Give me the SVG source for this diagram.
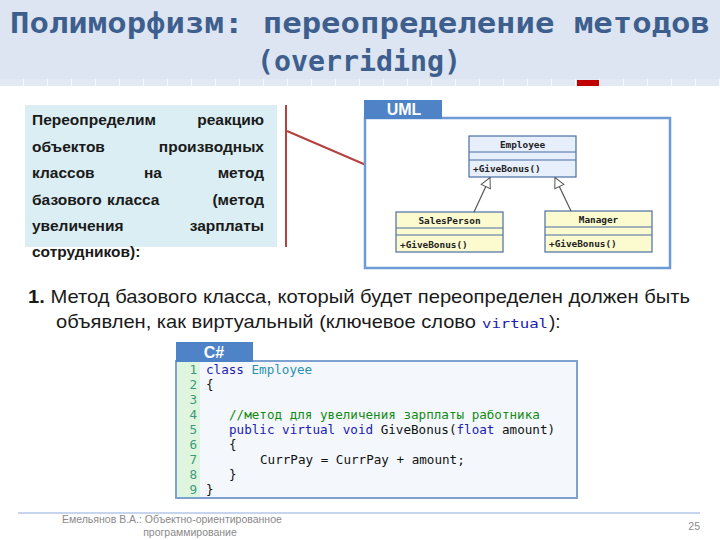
<svg xmlns="http://www.w3.org/2000/svg" width="720" height="540" viewBox="0 0 720 540">
<defs>
  <pattern id="ticks" x="-1" y="0" width="24" height="8" patternUnits="userSpaceOnUse">
    <rect x="0" y="0" width="24" height="8" fill="#e3e9f3"/>
    <rect x="0" y="0" width="1" height="8" fill="#f7f9fc"/>
  </pattern>
  <marker id="inh" viewBox="0 0 12 12" refX="11" refY="6" markerWidth="12" markerHeight="12" markerUnits="userSpaceOnUse" orient="auto">
    <path d="M1,1 L11,6 L1,11 Z" fill="#ffffff" stroke="#555555" stroke-width="1"/>
  </marker>
  <style>
    .title{font-family:"DejaVu Sans Mono","Liberation Mono",monospace;font-weight:bold;font-size:29px;fill:#3e5f8e}
    .lt{font-family:"Liberation Sans",Arial,sans-serif;font-weight:bold;font-size:15.5px;fill:#1a1a1a}
    .tab{font-family:"Liberation Sans",Arial,sans-serif;font-weight:bold;font-size:16px;fill:#ffffff}
    .uml{font-family:"DejaVu Sans Mono","Liberation Mono",monospace;font-weight:bold;font-size:9.4px;fill:#222222}
    .box{stroke:#4a6fa5;stroke-width:1.2}
    .emp{fill:#e6effb}
    .der{fill:#fbfbcf}
    .para{font-family:"Liberation Sans Narrow","Liberation Sans",Arial,sans-serif;font-size:19px;fill:#1a1a1a}
    .code{font-family:"DejaVu Sans Mono","Liberation Mono",monospace;font-size:12.6px;fill:#111111;white-space:pre}
    .ln{font-family:"DejaVu Sans Mono","Liberation Mono",monospace;font-size:12.6px;fill:#3b9a7a}
    .kw{fill:#2020b0}
    .ty{fill:#2b91af}
    .cm{fill:#138a13}
    .foot{font-family:"Liberation Sans",Arial,sans-serif;font-size:10.5px;fill:#8a8a8a}
  </style>
</defs>

<!-- header -->
<g id="header">
  <rect x="0" y="0" width="720" height="79" fill="#dce5f1"/>
  <rect x="0" y="79" width="720" height="7" fill="url(#ticks)"/>
  <rect x="577" y="80" width="22" height="6" fill="#c00000"/>
  <text class="title" x="360" y="33" text-anchor="middle" textLength="700" lengthAdjust="spacingAndGlyphs">Полиморфизм: переопределение методов</text>
  <text class="title" x="359" y="71" text-anchor="middle" textLength="204" lengthAdjust="spacingAndGlyphs">(overriding)</text>
</g>

<!-- left description -->
<g id="description">
  <rect x="25" y="105" width="252" height="142" fill="#dbeef4"/>
  <text class="lt" x="32" y="125">Переопределим</text>
  <text class="lt" x="264" y="125" text-anchor="end">реакцию</text>
  <text class="lt" x="32" y="151.5">объектов</text>
  <text class="lt" x="264" y="151.5" text-anchor="end">производных</text>
  <text class="lt" x="32" y="178">классов</text>
  <text class="lt" x="153" y="178" text-anchor="middle">на</text>
  <text class="lt" x="264" y="178" text-anchor="end">метод</text>
  <text class="lt" x="32" y="204.5">базового</text>
  <text class="lt" x="107" y="204.5">класса</text>
  <text class="lt" x="264" y="204.5" text-anchor="end">(метод</text>
  <text class="lt" x="32" y="231">увеличения</text>
  <text class="lt" x="264" y="231" text-anchor="end">зарплаты</text>
  <text class="lt" x="32" y="257">сотрудников):</text>
</g>

<!-- callout lines -->
<g id="callout" stroke="#b5413f" stroke-width="2" fill="none">
  <line x1="286" y1="105" x2="286" y2="247"/>
  <line x1="287" y1="131" x2="366" y2="165"/>
</g>

<!-- UML frame -->
<g id="uml-frame">
  <rect x="365" y="118" width="305" height="150" fill="#ffffff" stroke="#6e9bd6" stroke-width="2.5"/>
  <rect x="364" y="100" width="78" height="19" fill="#4f83c8"/>
  <text class="tab" x="404" y="115" text-anchor="middle">UML</text>
</g>

<g id="employee">
  <rect class="box emp" x="469" y="136" width="107" height="41"/>
  <line class="box" x1="469" y1="152" x2="576" y2="152"/>
  <line class="box" x1="469" y1="160" x2="576" y2="160"/>
  <text class="uml" x="522.5" y="147.5" text-anchor="middle">Employee</text>
  <text class="uml" x="473" y="172">+GiveBonus()</text>
</g>

<g id="salesperson">
  <rect class="box der" x="396" y="212" width="107" height="40"/>
  <line class="box" x1="396" y1="228" x2="503" y2="228"/>
  <line class="box" x1="396" y1="235" x2="503" y2="235"/>
  <text class="uml" x="449.5" y="224" text-anchor="middle">SalesPerson</text>
  <text class="uml" x="400" y="248">+GiveBonus()</text>
</g>

<g id="manager">
  <rect class="box der" x="545" y="211" width="107" height="41"/>
  <line class="box" x1="545" y1="227" x2="652" y2="227"/>
  <line class="box" x1="545" y1="235" x2="652" y2="235"/>
  <text class="uml" x="598.5" y="223" text-anchor="middle">Manager</text>
  <text class="uml" x="549" y="247">+GiveBonus()</text>
</g>

<g id="connectors" stroke="#555555" stroke-width="1.2" fill="none">
  <line x1="474" y1="212" x2="490" y2="177.5" marker-end="url(#inh)"/>
  <line x1="571" y1="211" x2="555" y2="177.5" marker-end="url(#inh)"/>
</g>

<!-- paragraph -->
<g id="paragraph">
  <text class="para" x="28" y="303" textLength="662" lengthAdjust="spacingAndGlyphs"><tspan font-weight="bold">1.</tspan> Метод базового класса, который будет переопределен должен быть</text>
  <text class="para" x="56" y="328" textLength="420" lengthAdjust="spacingAndGlyphs">объявлен, как виртуальный (ключевое  слово</text>
  <text class="code kw" x="482" y="328" font-size="15" textLength="66" lengthAdjust="spacingAndGlyphs">virtual</text>
  <text class="para" x="549" y="328">):</text>
</g>

<!-- code box -->
<g id="code">
  <rect x="176" y="361" width="401" height="137" fill="#f4f8fc" stroke="#7ea2cf" stroke-width="2"/>
  <rect x="177" y="362" width="23" height="135" fill="#e0f5e0"/>
  <rect x="176" y="342" width="77" height="20" fill="#4f83c8"/>
  <text class="tab" x="214" y="358" text-anchor="middle">C#</text>
  <g class="ln" text-anchor="end">
    <text x="197" y="374">1</text>
    <text x="197" y="389">2</text>
    <text x="197" y="404">3</text>
    <text x="197" y="419">4</text>
    <text x="197" y="434">5</text>
    <text x="197" y="449">6</text>
    <text x="197" y="464">7</text>
    <text x="197" y="479">8</text>
    <text x="197" y="493.5">9</text>
  </g>
  <text class="code" x="206" y="374"><tspan class="kw">class</tspan> <tspan class="ty">Employee</tspan></text>
  <text class="code" x="206" y="389">{</text>
  <text class="code cm" x="229" y="419">//метод для увеличения зарплаты работника</text>
  <text class="code" x="229" y="434"><tspan class="kw">public</tspan> <tspan class="kw">virtual</tspan> <tspan class="kw">void</tspan> GiveBonus(<tspan class="kw">float</tspan> amount)</text>
  <text class="code" x="229" y="449">{</text>
  <text class="code" x="260" y="464">CurrPay = CurrPay + amount;</text>
  <text class="code" x="229" y="479">}</text>
  <text class="code" x="206" y="493.5">}</text>
</g>

<!-- footer -->
<g id="footer">
  <line x1="18" y1="513" x2="700" y2="513" stroke="#8eaadb" stroke-width="1"/>
  <text class="foot" x="62" y="523">Емельянов В.А.: Объектно-ориентированное</text>
  <text class="foot" x="190" y="536" text-anchor="middle">программирование</text>
  <text class="foot" x="700" y="530" text-anchor="end">25</text>
</g>
</svg>
